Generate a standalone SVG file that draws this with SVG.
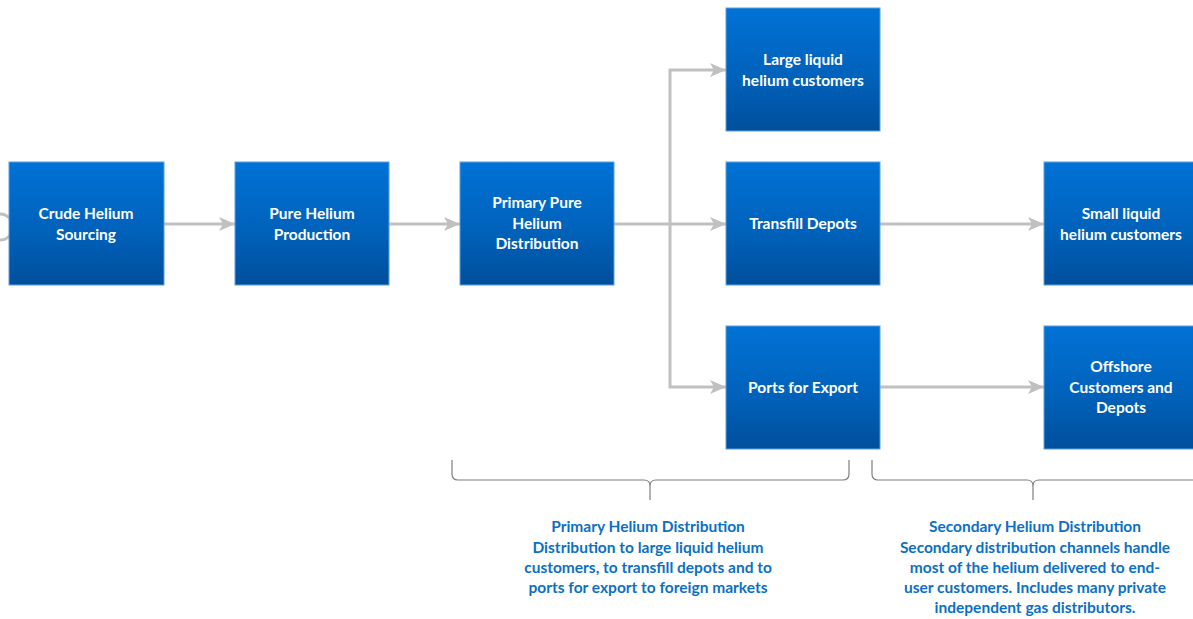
<svg xmlns="http://www.w3.org/2000/svg" width="1193" height="619" viewBox="0 0 1193 619">
<defs>
<linearGradient id="g" x1="0" y1="0" x2="0" y2="1">
<stop offset="0" stop-color="#0072d6"/>
<stop offset="0.55" stop-color="#0062bb"/>
<stop offset="1" stop-color="#004f9c"/>
</linearGradient>
<marker id="ah" viewBox="0 0 16 14" refX="16" refY="7" markerWidth="16" markerHeight="14" markerUnits="userSpaceOnUse" orient="auto">
<path d="M0,0 L16,7 L0,14 L4,7 Z" fill="#c0c0c0"/>
</marker>
<style>
.box{fill:url(#g);stroke:#5aa0e0;stroke-width:1}
.nt{font-family:Lato,"Liberation Sans",sans-serif;font-weight:bold;font-size:15.5px;fill:#ffffff;text-anchor:middle}
.ct{font-family:Lato,"Liberation Sans",sans-serif;font-weight:bold;font-size:15.5px;fill:#0b70c4;text-anchor:middle}
.cn{fill:none;stroke:#c0c0c0;stroke-width:3}
.br{fill:none;stroke:#7f7f7f;stroke-width:1.2}
</style>
</defs>
<rect width="1193" height="619" fill="#ffffff"/>
<g id="connectors">
<path class="cn" d="M0,214 A12,12 0 0 1 0,240" stroke-width="1.5"/>
<line class="cn" x1="164" y1="224" x2="235" y2="224" marker-end="url(#ah)"/>
<line class="cn" x1="389" y1="224" x2="460" y2="224" marker-end="url(#ah)"/>
<line class="cn" x1="614" y1="224" x2="726" y2="224" marker-end="url(#ah)"/>
<polyline class="cn" points="670,224 670,70 726,70" marker-end="url(#ah)"/>
<polyline class="cn" points="670,224 670,387 726,387" marker-end="url(#ah)"/>
<line class="cn" x1="880" y1="224" x2="1044" y2="224" marker-end="url(#ah)"/>
<line class="cn" x1="880" y1="387" x2="1044" y2="387" marker-end="url(#ah)"/>
</g>
<g id="n1"><rect class="box" x="9" y="162" width="155" height="123"/><text class="nt" x="86" y="219">Crude Helium</text><text class="nt" x="86" y="240">Sourcing</text></g>
<g id="n2"><rect class="box" x="235" y="162" width="154" height="123"/><text class="nt" x="312" y="219">Pure Helium</text><text class="nt" x="312" y="240">Production</text></g>
<g id="n3"><rect class="box" x="460" y="162" width="154" height="123"/><text class="nt" x="537" y="208">Primary Pure</text><text class="nt" x="537" y="229">Helium</text><text class="nt" x="537" y="249">Distribution</text></g>
<g id="n4"><rect class="box" x="726" y="8" width="154" height="123"/><text class="nt" x="803" y="65">Large liquid</text><text class="nt" x="803" y="86">helium customers</text></g>
<g id="n5"><rect class="box" x="726" y="162" width="154" height="123"/><text class="nt" x="803" y="229">Transfill Depots</text></g>
<g id="n6"><rect class="box" x="726" y="326" width="154" height="123"/><text class="nt" x="803" y="393">Ports for Export</text></g>
<g id="n7"><rect class="box" x="1044" y="162" width="154" height="123"/><text class="nt" x="1121" y="219">Small liquid</text><text class="nt" x="1121" y="240">helium customers</text></g>
<g id="n8"><rect class="box" x="1044" y="326" width="154" height="123"/><text class="nt" x="1121" y="372">Offshore</text><text class="nt" x="1121" y="393">Customers and</text><text class="nt" x="1121" y="413">Depots</text></g>
<g id="brace1">
<path class="br" d="M452,460 L452,474 Q452,480 458,480 L644,480 Q650,480 650,486 L650,500 M650,486 Q650,480 656,480 L843,480 Q849,480 849,474 L849,460"/>
<text class="ct" x="648" y="532">Primary Helium Distribution</text>
<text class="ct" x="648" y="553">Distribution to large liquid helium</text>
<text class="ct" x="648" y="573">customers, to transfill depots and to</text>
<text class="ct" x="648" y="593">ports for export to foreign markets</text>
</g>
<g id="brace2">
<path class="br" d="M872,460 L872,474 Q872,480 878,480 L1027,480 Q1033,480 1033,486 L1033,500 M1033,486 Q1033,480 1039,480 L1193,480"/>
<text class="ct" x="1035" y="532">Secondary Helium Distribution</text>
<text class="ct" x="1035" y="553">Secondary distribution channels handle</text>
<text class="ct" x="1035" y="573">most of the helium delivered to end-</text>
<text class="ct" x="1035" y="593">user customers. Includes many private</text>
<text class="ct" x="1035" y="613">independent gas distributors.</text>
</g>
</svg>
